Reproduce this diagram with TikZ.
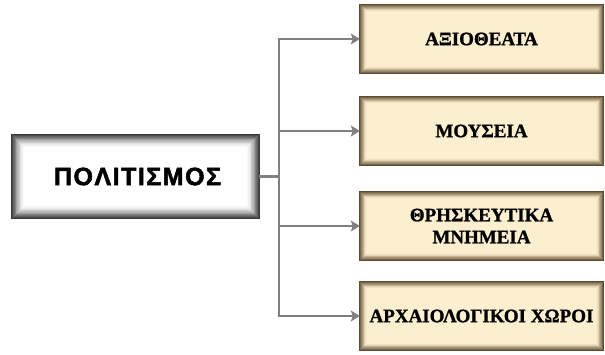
\documentclass[tikz,border=0pt]{standalone}
\usepackage{fontspec}
\setmainfont{Liberation Serif}[BoldFeatures={FakeBold=1.2}]
\newfontfamily\hdfont{Liberation Sans}[BoldFeatures={FakeBold=2}]
\usetikzlibrary{arrows.meta}
\definecolor{cream}{HTML}{FCEFCF}
\definecolor{creamedge}{HTML}{5E4A30}
\definecolor{maingray}{HTML}{383838}
\definecolor{linegray}{HTML}{808080}
\tikzset{
  mainbox/.style={minimum width=247pt, minimum height=83pt, inner sep=0pt, fill=white},
  subbox/.style={minimum width=243pt, minimum height=68pt, inner sep=0pt, fill=cream,
    align=center, font=\bfseries\fontsize{19}{22}\selectfont},
  conn/.style={draw=linegray, line width=2.8pt},
  arr/.style={conn, -{Stealth[length=9pt,width=11pt,inset=2pt]}}
}
\newcommand{\innerglow}[5]{% node, color, fill, steps, step size
  \foreach \i in {0,...,#4}{
    \pgfmathsetmacro{\pct}{int(100*(1-\i/#4)^1.6)}
    \draw[color=#2!\pct!#3, line width=#5+0.3pt]
      ([shift={(\i*#5+0.5*#5,-\i*#5-0.5*#5)}]#1.north west) rectangle
      ([shift={(-\i*#5-0.5*#5,\i*#5+0.5*#5)}]#1.south east);
  }
  \draw[#2, line width=1.2pt] (#1.north west) rectangle (#1.south east);
}
\begin{document}
\begin{tikzpicture}[x=1pt,y=1pt]
\useasboundingbox (0,0) rectangle (605,354);
\node[mainbox] (main) at (135.5,177.5) {};
\innerglow{main}{maingray}{white}{16}{0.8pt}
\node[font=\hdfont\bfseries\fontsize{25}{28}\selectfont] (maint) at (137.5,177.5) {Π\kern1.5ptΟ\kern1.5ptΛ\kern1.5ptΙ\kern1.5ptΤ\kern1.5ptΙ\kern1.5ptΣ\kern1.5ptΜ\kern1.5ptΟ\kern1.5ptΣ};

\node[subbox] (b1) at (481.5,315) {};
\node[subbox] (b2) at (481.5,223) {};
\node[subbox] (b3) at (481.5,128) {};
\node[subbox] (b4) at (481.5,38) {};
\foreach \n in {b1,b2,b3,b4}{\innerglow{\n}{creamedge}{cream}{9}{0.8pt}}
\node[subbox,fill=none] (t1) at (b1.center) {ΑΞΙΟΘΕΑΤΑ};
\node[subbox,fill=none] (t2) at (b2.center) {ΜΟΥΣΕΙΑ};
\node[subbox,fill=none] (t3) at (b3.center) {ΘΡΗΣΚΕΥΤΙΚΑ\\ΜΝΗΜΕΙΑ};
\node[subbox,fill=none] (t4) at (b4.center) {ΑΡΧΑΙΟΛΟΓΙΚΟΙ ΧΩΡΟΙ};

\coordinate (j) at (279,177.5);
\coordinate (top) at (279,315);
\coordinate (bot) at (279,38);
\draw[conn] (main.east) -- (j);
\draw[conn] ([yshift=1.4pt]top) -- ([yshift=-1.4pt]bot);
\draw[arr] ([xshift=-1.4pt]top) -- (b1.west);
\draw[arr] (279,223) -- (b2.west);
\draw[arr] (279,128) -- (b3.west);
\draw[arr] ([xshift=-1.4pt]bot) -- (b4.west);
\end{tikzpicture}
\end{document}
